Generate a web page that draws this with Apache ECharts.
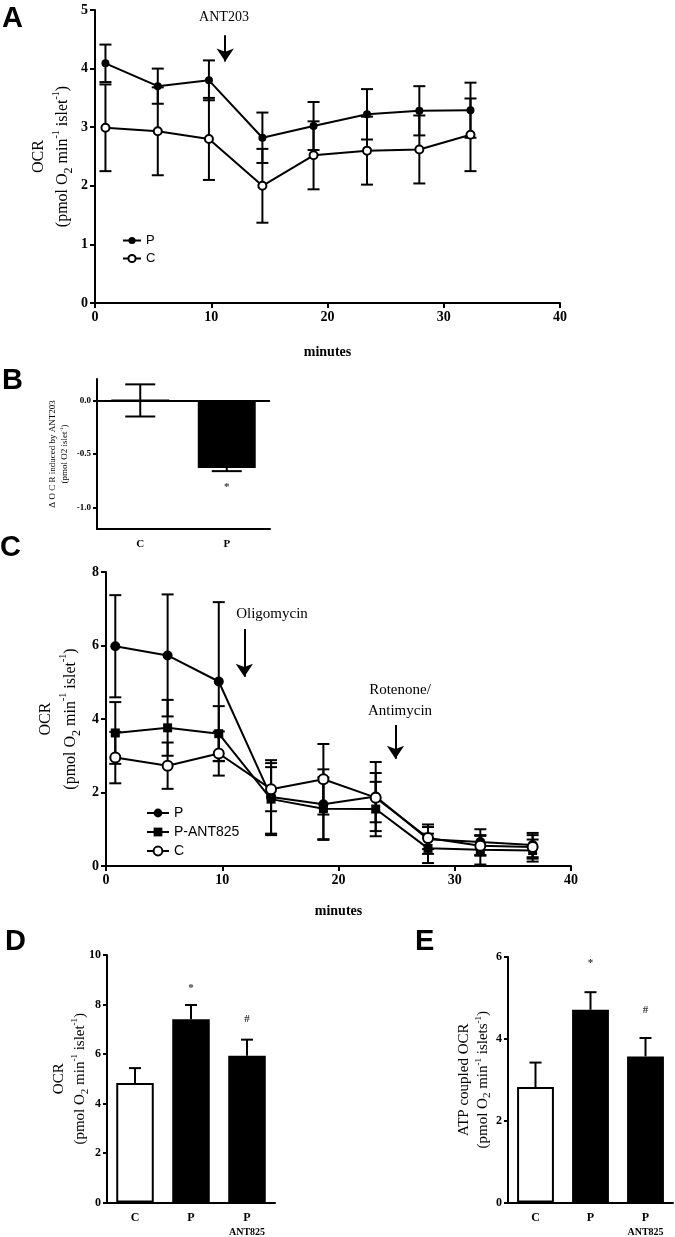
<!DOCTYPE html>
<html><head><meta charset="utf-8">
<script src="https://cdn.jsdelivr.net/npm/echarts@6/dist/echarts.min.js"></script>
<style>html,body{margin:0;padding:0;background:#fff}#c{width:675px;height:1237px}</style>
</head><body><div id="c"></div>
<script>
// ---------- Panel A data ----------
const timesA = [0.9, 5.4, 9.8, 14.4, 18.8, 23.4, 27.9, 32.3];
const pA     = [4.09, 3.70, 3.80, 2.82, 3.02, 3.22, 3.28, 3.29];
const pAErr  = [0.32, 0.30, 0.34, 0.43, 0.41, 0.43, 0.42, 0.47];
const cA     = [2.99, 2.93, 2.80, 2.00, 2.52, 2.60, 2.62, 2.87];
const cAErr  = [0.74, 0.75, 0.70, 0.63, 0.58, 0.58, 0.58, 0.62];
const arrowA = [[11.2, 4.57], [11.2, 4.12]];
// ---------- Panel B data ----------
const catsB = ['C', 'P'];
const deltaB = [0, -0.63];
const deltaBErr = [0.15, 0.03];
const sigB = ['', '*'];
const sigBPos = [null, -0.81];
const ticksB = [-1.0, -0.5, 0.0];
// ---------- Panel C data ----------
const timesC = [0.8, 5.3, 9.7, 14.2, 18.7, 23.2, 27.7, 32.2, 36.7];
const pC      = [5.98, 5.73, 5.02, 1.88, 1.68, 1.89, 0.73, 0.65, 0.57];
const pCErr   = [1.39, 1.66, 2.16, 1.00, 0.95, 0.94, 0.40, 0.35, 0.33];
const antC    = [3.62, 3.76, 3.60, 1.82, 1.56, 1.55, 0.48, 0.44, 0.42];
const antCErr = [0.84, 0.76, 0.75, 0.98, 0.85, 0.74, 0.40, 0.40, 0.30];
const cC      = [2.95, 2.73, 3.06, 2.09, 2.36, 1.86, 0.76, 0.55, 0.52];
const cCErr   = [0.70, 0.63, 0.60, 0.60, 0.96, 0.67, 0.30, 0.27, 0.32];
const arrowOligo = [[11.9, 6.45], [11.9, 5.15]];
const arrowRot = [[24.9, 3.84], [24.9, 2.92]];
// ---------- Panels D / E data ----------
const catsDE = ['C', 'P', 'P-ANT825'];
const ocrD = [4.83, 7.40, 5.93];
const ocrDErr = [0.60, 0.58, 0.65];
const atpE = [2.82, 4.71, 3.57];
const atpEErr = [0.60, 0.43, 0.45];
const sigDE = ['', '*', '#'];
const sigDPos = [null, 8.65, 7.42];
const sigEPos = [null, 5.86, 4.70];

const SERIF = 'Liberation Serif', SANS = 'Liberation Sans';
const BLACK = '#000';
const fillDE = ['#fff', BLACK, BLACK];

function richSet(size, lh) {
  return {
    t: {fontFamily: SERIF, fontSize: size, lineHeight: lh, color: BLACK},
    sb: {fontFamily: SERIF, fontSize: Math.round(size * 0.72), verticalAlign: 'bottom', color: BLACK},
    sp: {fontFamily: SERIF, fontSize: Math.round(size * 0.6), verticalAlign: 'top', color: BLACK}
  };
}
const nameOCR = '{t|OCR}\n{t|(pmol O}{sb|2}{t| min}{sp|-1}{t| islet}{sp|-1}{t|)}';
const nameATP = '{t|ATP coupled OCR}\n{t|(pmol O}{sb|2}{t| min}{sp|-1}{t| islets}{sp|-1}{t|)}';
const nameB = '{t|\u0394 O C R induced by ANT203}\n{t|(pmol O2 islet}{sp|-1}{t|)}';

function valAxis(grid, min, max, interval, labelSize, tickLen) {
  return {
    type: 'value', gridIndex: grid, min: min, max: max, interval: interval,
    nameMoveOverlap: false,
    axisLine: {show: true, onZero: false, lineStyle: {color: BLACK, width: 2}},
    axisTick: {show: true, length: tickLen, lineStyle: {color: BLACK, width: 2}},
    axisLabel: {color: BLACK, fontFamily: SERIF, fontWeight: 'bold', fontSize: labelSize, margin: tickLen + 2},
    splitLine: {show: false}
  };
}
function catAxis(grid, cats, size) {
  return {
    type: 'category', gridIndex: grid, data: cats,
    axisLine: {show: true, onZero: false, lineStyle: {color: BLACK, width: 2}},
    axisTick: {show: false},
    axisLabel: {interval: 0, color: BLACK, fontFamily: SERIF, fontWeight: 'bold', fontSize: size, margin: 8,
      formatter: function (v) { return v === 'P-ANT825' ? '{b|P}\n{s|ANT825}' : '{b|' + v + '}'; },
      rich: {b: {fontFamily: SERIF, fontWeight: 'bold', fontSize: size, color: BLACK, lineHeight: size + 3},
             s: {fontFamily: SERIF, fontWeight: 'bold', fontSize: size - 2, color: BLACK, lineHeight: size + 1}}}
  };
}

function errSeries(xi, xs, ys, es, cap, mode, z) {
  return {
    type: 'custom', xAxisIndex: xi, yAxisIndex: xi, z: z, silent: true,
    data: xs.map(function (x, i) { return [x, ys[i], es[i]]; }),
    renderItem: function (params, api) {
      const x = api.value(0), y = api.value(1), e = api.value(2);
      let up = true, down = true;
      if (mode === 'bar') { up = y >= 0; down = y <= 0; }
      const pu = api.coord([x, up ? y + e : y]);
      const pd = api.coord([x, down ? y - e : y]);
      const st = {stroke: BLACK, lineWidth: 2, fill: null};
      const ch = [{type: 'line', shape: {x1: pu[0], y1: pu[1], x2: pd[0], y2: pd[1]}, style: st}];
      if (up) ch.push({type: 'line', shape: {x1: pu[0] - cap, y1: pu[1], x2: pu[0] + cap, y2: pu[1]}, style: st});
      if (down) ch.push({type: 'line', shape: {x1: pd[0] - cap, y1: pd[1], x2: pd[0] + cap, y2: pd[1]}, style: st});
      return {type: 'group', children: ch};
    }
  };
}
function lineSeries(xi, name, xs, ys, symbol, size) {
  return {
    type: 'line', name: name, xAxisIndex: xi, yAxisIndex: xi, z: 3,
    data: xs.map(function (x, i) { return [x, ys[i]]; }),
    symbol: symbol, symbolSize: size, showSymbol: true,
    lineStyle: {color: BLACK, width: 2},
    itemStyle: {color: BLACK, borderColor: BLACK, borderWidth: symbol === 'emptyCircle' ? 1.6 : 0},
    emphasis: {disabled: true}, animation: false
  };
}
function arrowLines(list) {
  return {
    silent: true, symbol: ['none', 'arrow'], symbolSize: 13, animation: false,
    lineStyle: {color: BLACK, width: 2, type: 'solid'}, label: {show: false},
    data: list.map(function (pts) { return [{coord: pts[0]}, {coord: pts[1]}]; })
  };
}
function sigSeries(xi, labels, pos, size) {
  const d = [];
  pos.forEach(function (p, i) { if (p !== null) d.push({value: [i, p], label: {formatter: labels[i]}}); });
  return {
    type: 'scatter', xAxisIndex: xi, yAxisIndex: xi, symbolSize: 1, silent: true,
    itemStyle: {color: 'rgba(0,0,0,0)'},
    data: d,
    label: {show: true, position: 'inside', color: BLACK, fontFamily: SERIF, fontWeight: 'bold', fontSize: size}
  };
}
function barSeries(xi, vals, fills, width) {
  return {
    type: 'bar', xAxisIndex: xi, yAxisIndex: xi, barWidth: width, z: 2, silent: true,
    data: vals.map(function (v, i) {
      return {value: v, itemStyle: {color: fills[i], borderColor: BLACK, borderWidth: 2}};
    }),
    animation: false
  };
}

const legendNames = {'P_A': 'P', 'C_A': 'C', 'P_C': 'P', 'ANT_C': 'P-ANT825', 'C_C': 'C'};

const option = {
  animation: false,
  backgroundColor: '#fff',
  grid: [
    {left: 95, top: 10, width: 465, height: 293},
    {left: 97, top: 379, width: 173, height: 150},
    {left: 106, top: 572, width: 465, height: 294},
    {left: 107, top: 955, width: 168, height: 250},
    {left: 508, top: 957, width: 165, height: 248}
  ],
  legend: [
    {data: ['P_A', 'C_A'], orient: 'vertical', left: 117, top: 229, itemWidth: 18, itemHeight: 9, itemGap: 5,
     formatter: function (n) { return legendNames[n]; },
     textStyle: {fontFamily: SANS, fontSize: 13, color: BLACK}, selectedMode: false},
    {data: ['P_C', 'ANT_C', 'C_C'], orient: 'vertical', left: 141, top: 801, itemWidth: 22, itemHeight: 11, itemGap: 5,
     formatter: function (n) { return legendNames[n]; },
     textStyle: {fontFamily: SANS, fontSize: 14, color: BLACK}, selectedMode: false}
  ],
  xAxis: [
    Object.assign(valAxis(0, 0, 40, 10, 14, 5), {name: 'minutes', nameLocation: 'middle', nameGap: 42,
      nameTextStyle: {fontFamily: SERIF, fontWeight: 'bold', fontSize: 14, color: BLACK}}),
    catAxis(1, catsB, 11),
    Object.assign(valAxis(2, 0, 40, 10, 14, 5), {name: 'minutes', nameLocation: 'middle', nameGap: 38,
      nameTextStyle: {fontFamily: SERIF, fontWeight: 'bold', fontSize: 14, color: BLACK}}),
    catAxis(3, catsDE, 12),
    catAxis(4, catsDE, 12)
  ],
  yAxis: [
    Object.assign(valAxis(0, 0, 5, 1, 14, 5), {name: nameOCR, nameLocation: 'middle', nameGap: 20,
      nameTextStyle: {rich: richSet(16, 24)}}),
    (function () {
      const a = valAxis(1, -1.2, 0.2, null, 9, 4);
      delete a.interval;
      a.axisTick.customValues = ticksB;
      a.axisLabel.customValues = ticksB;
      a.axisLabel.formatter = function (v) { return v.toFixed(1); };
      a.name = nameB; a.nameLocation = 'middle'; a.nameGap = 26;
      a.nameTextStyle = {rich: richSet(9, 12)};
      return a;
    })(),
    Object.assign(valAxis(2, 0, 8, 2, 14, 5), {name: nameOCR, nameLocation: 'middle', nameGap: 23,
      nameTextStyle: {rich: richSet(16, 25)}}),
    Object.assign(valAxis(3, 0, 10, 2, 12, 4), {name: nameOCR, nameLocation: 'middle', nameGap: 16,
      nameTextStyle: {rich: richSet(15, 21)}}),
    Object.assign(valAxis(4, 0, 6, 2, 12, 4), {name: nameATP, nameLocation: 'middle', nameGap: 15,
      nameTextStyle: {rich: richSet(15, 19)}})
  ],
  series: [
    // Panel A
    errSeries(0, timesA, pA, pAErr, 6, 'xy', 1),
    errSeries(0, timesA, cA, cAErr, 6, 'xy', 1),
    Object.assign(lineSeries(0, 'P_A', timesA, pA, 'circle', 8), {markLine: arrowLines([arrowA])}),
    lineSeries(0, 'C_A', timesA, cA, 'emptyCircle', 8),
    // Panel B
    Object.assign(barSeries(1, deltaB, [BLACK, BLACK], '67%'), {
      markLine: {silent: true, symbol: 'none', label: {show: false}, lineStyle: {color: BLACK, width: 2, type: 'solid'},
                 data: [{yAxis: 0}]}
    }),
    errSeries(1, [0, 1], deltaB, deltaBErr, 15, 'bar', 4),
    sigSeries(1, sigB, sigBPos, 11),
    // Panel C
    errSeries(2, timesC, pC, pCErr, 6, 'xy', 1),
    errSeries(2, timesC, antC, antCErr, 6, 'xy', 1),
    errSeries(2, timesC, cC, cCErr, 6, 'xy', 1),
    Object.assign(lineSeries(2, 'P_C', timesC, pC, 'circle', 10), {markLine: arrowLines([arrowOligo, arrowRot])}),
    lineSeries(2, 'ANT_C', timesC, antC, 'rect', 9),
    lineSeries(2, 'C_C', timesC, cC, 'emptyCircle', 10),
    // Panel D
    barSeries(3, ocrD, fillDE, '67%'),
    errSeries(3, [0, 1, 2], ocrD, ocrDErr, 6, 'bar', 4),
    sigSeries(3, sigDE, sigDPos, 11),
    // Panel E
    barSeries(4, atpE, fillDE, '67%'),
    errSeries(4, [0, 1, 2], atpE, atpEErr, 6, 'bar', 4),
    sigSeries(4, sigDE, sigEPos, 11)
  ],
  graphic: [
    {type: 'text', left: 2, top: 4, style: {text: 'A', font: 'bold 29px ' + SANS, fill: BLACK}},
    {type: 'text', left: 2, top: 366, style: {text: 'B', font: 'bold 29px ' + SANS, fill: BLACK}},
    {type: 'text', left: 0, top: 533, style: {text: 'C', font: 'bold 29px ' + SANS, fill: BLACK}},
    {type: 'text', left: 5, top: 927, style: {text: 'D', font: 'bold 29px ' + SANS, fill: BLACK}},
    {type: 'text', left: 415, top: 927, style: {text: 'E', font: 'bold 29px ' + SANS, fill: BLACK}},
    {type: 'text', x: 224, y: 17, style: {text: 'ANT203', font: '14px ' + SERIF, fill: BLACK, align: 'center', verticalAlign: 'middle'}},
    {type: 'text', x: 272, y: 614, style: {text: 'Oligomycin', font: '15px ' + SERIF, fill: BLACK, align: 'center', verticalAlign: 'middle'}},
    {type: 'text', x: 400, y: 690, style: {text: 'Rotenone/', font: '15px ' + SERIF, fill: BLACK, align: 'center', verticalAlign: 'middle'}},
    {type: 'text', x: 400, y: 711, style: {text: 'Antimycin', font: '15px ' + SERIF, fill: BLACK, align: 'center', verticalAlign: 'middle'}}
  ]
};
const chart = echarts.init(document.getElementById('c'));
chart.setOption(option);
</script>
</body></html>
